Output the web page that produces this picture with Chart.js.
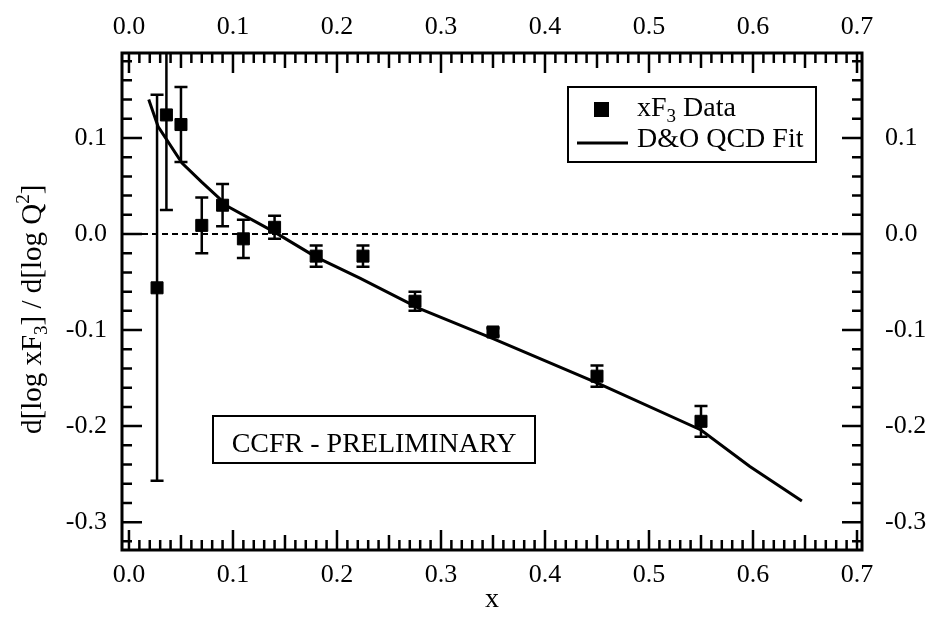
<!DOCTYPE html>
<html>
<head>
<meta charset="utf-8">
<script src="https://cdn.jsdelivr.net/npm/chart.js@4.4.1/dist/chart.umd.min.js"></script>
<style>
  body { margin: 0; background: #fff; }
  canvas { display: block; }
</style>
</head>
<body>
<canvas id="chart" width="926" height="625"></canvas>
<script>
// data
var dataX = [0.027, 0.036, 0.05, 0.07, 0.09, 0.11, 0.14, 0.18, 0.225, 0.275, 0.35, 0.45, 0.55];
var dataY = [-0.056, 0.124, 0.114, 0.009, 0.030, -0.005, 0.007, -0.023, -0.023, -0.070, -0.102, -0.148, -0.195];
var dataErr = [0.201, 0.099, 0.039, 0.029, 0.022, 0.020, 0.012, 0.011, 0.011, 0.010, 0.004, 0.011, 0.016];

var fitX = [0.019, 0.028, 0.051, 0.07, 0.096, 0.14, 0.18, 0.222, 0.28, 0.35, 0.45, 0.55, 0.597, 0.647];
var fitY = [0.140, 0.112, 0.074, 0.054, 0.028, 0.002, -0.024, -0.046, -0.078, -0.109, -0.155, -0.204, -0.242, -0.278];

var xTicks = [0.0, 0.1, 0.2, 0.3, 0.4, 0.5, 0.6, 0.7];
var yTicks = [-0.3, -0.2, -0.1, 0.0, 0.1];

var X_MIN = -0.0067, X_MAX = 0.7048;
var Y_MIN = -0.329, Y_MAX = 0.1885;

var SERIF = "'Liberation Serif', 'Times New Roman', serif";

function fmt(v) {
    if (Math.abs(v) < 1e-9) v = 0;
    return v.toFixed(1);
}

// text with a sub/superscript piece: parts = [[text, size, shift], ...]
function drawParts(ctx, parts, x, y) {
    parts.forEach(function (p) {
        ctx.font = p[1] + "px " + SERIF;
        ctx.fillText(p[0], x, y + p[2]);
        x += ctx.measureText(p[0]).width;
    });
    return x;
}

var decorations = {
    id: 'decorations',
    beforeDatasetsDraw: function (chart) {
        var ctx = chart.ctx, a = chart.chartArea;
        var xs = chart.scales.x, ys = chart.scales.y;
        ctx.save();
        ctx.beginPath();
        ctx.rect(a.left, a.top, a.right - a.left, a.bottom - a.top);
        ctx.clip();

        // dashed zero line
        var y0 = ys.getPixelForValue(0);
        ctx.strokeStyle = '#000';
        ctx.lineWidth = 2;
        ctx.setLineDash([6, 4]);
        ctx.beginPath();
        ctx.moveTo(a.left, y0);
        ctx.lineTo(a.right, y0);
        ctx.stroke();
        ctx.setLineDash([]);

        // error bars
        ctx.lineWidth = 2.5;
        for (var i = 0; i < dataX.length; i++) {
            var px = xs.getPixelForValue(dataX[i]);
            var pTop = ys.getPixelForValue(dataY[i] + dataErr[i]);
            var pBot = ys.getPixelForValue(dataY[i] - dataErr[i]);
            ctx.beginPath();
            ctx.moveTo(px, pTop); ctx.lineTo(px, pBot);
            ctx.moveTo(px - 6.5, pTop); ctx.lineTo(px + 6.5, pTop);
            ctx.moveTo(px - 6.5, pBot); ctx.lineTo(px + 6.5, pBot);
            ctx.stroke();
        }
        ctx.restore();
    },
    afterDraw: function (chart) {
        var ctx = chart.ctx, a = chart.chartArea;
        var xs = chart.scales.x, ys = chart.scales.y;
        ctx.save();
        ctx.strokeStyle = '#000';
        ctx.fillStyle = '#000';

        // frame
        ctx.lineWidth = 3;
        ctx.strokeRect(a.left, a.top, a.right - a.left, a.bottom - a.top);

        // inward tick marks
        ctx.lineWidth = 2.5;
        ctx.beginPath();
        for (var i = Math.ceil(X_MIN / 0.01); i <= Math.floor(X_MAX / 0.01); i++) {
            var len = i % 10 === 0 ? 20 : (i % 5 === 0 ? 15 : 10);
            var px = xs.getPixelForValue(i * 0.01);
            ctx.moveTo(px, a.bottom); ctx.lineTo(px, a.bottom - len);
            ctx.moveTo(px, a.top); ctx.lineTo(px, a.top + len);
        }
        for (var j = Math.ceil(Y_MIN / 0.02); j <= Math.floor(Y_MAX / 0.02); j++) {
            var l2 = j % 5 === 0 ? 20 : 10;
            var py = ys.getPixelForValue(j * 0.02);
            ctx.moveTo(a.left, py); ctx.lineTo(a.left + l2, py);
            ctx.moveTo(a.right, py); ctx.lineTo(a.right - l2, py);
        }
        ctx.stroke();

        // x title
        ctx.textAlign = 'center';
        ctx.textBaseline = 'alphabetic';
        ctx.font = "28px " + SERIF;
        ctx.fillText('x', (a.left + a.right) / 2, 607);

        // y title, rotated
        ctx.save();
        ctx.translate(41, 434);
        ctx.rotate(-Math.PI / 2);
        ctx.textAlign = 'left';
        drawParts(ctx, [
            ['d[log xF', 29, 0], ['3', 19, 6], ['] / d[log Q', 29, 0], ['2', 19, -12], [']', 29, 0]
        ], 0, 0);
        ctx.restore();

        // legend box
        ctx.lineWidth = 2;
        ctx.strokeRect(568, 87, 248, 75);
        ctx.fillRect(594, 102, 15, 15);
        ctx.lineWidth = 3;
        ctx.beginPath();
        ctx.moveTo(577, 143); ctx.lineTo(628, 143);
        ctx.stroke();
        ctx.textAlign = 'left';
        drawParts(ctx, [['xF', 28, 0], ['3', 19, 6], [' Data', 28, 0]], 637, 116);
        drawParts(ctx, [['D&O QCD Fit', 28, 0]], 637, 147);

        // preliminary label
        ctx.lineWidth = 2;
        ctx.strokeRect(213, 416, 322, 47);
        ctx.font = "28px " + SERIF;
        ctx.textAlign = 'center';
        ctx.fillText('CCFR - PRELIMINARY', 374, 452);

        ctx.restore();
    }
};

function axis(pos, min, max, size, pad) {
    var horiz = pos === 'top' || pos === 'bottom';
    return {
        type: 'linear',
        position: pos,
        min: min,
        max: max,
        grid: { display: false, drawTicks: false },
        border: { display: false },
        ticks: {
            stepSize: 0.1,
            includeBounds: false,
            padding: pad,
            color: '#000',
            maxRotation: 0,
            autoSkip: false,
            font: { family: SERIF, size: 26 },
            callback: function (v) { return fmt(v); }
        },
        afterFit: function (s) {
            if (horiz) s.height = size; else s.width = size;
        }
    };
}

var points = dataX.map(function (x, i) { return { x: x, y: dataY[i] }; });
var fitPoints = fitX.map(function (x, i) { return { x: x, y: fitY[i] }; });

var ctx = document.getElementById('chart').getContext('2d');
var chart = new Chart(ctx, {
    type: 'scatter',
    data: {
        datasets: [{
            label: 'xF3 Data',
            data: points,
            pointStyle: 'rect',
            pointRadius: 8.5,
            backgroundColor: '#000',
            borderColor: '#000',
            borderWidth: 1,
            order: 0
        }, {
            label: 'D&O QCD Fit',
            data: fitPoints,
            showLine: true,
            pointRadius: 0,
            borderColor: '#000',
            borderWidth: 3,
            tension: 0,
            order: 1
        }]
    },
    options: {
        responsive: false,
        animation: false,
        layout: { padding: 0 },
        plugins: {
            legend: { display: false },
            tooltip: { enabled: false }
        },
        scales: {
            x: axis('bottom', X_MIN, X_MAX, 75, 10),
            x2: axis('top', X_MIN, X_MAX, 53, 10),
            y: axis('left', Y_MIN, Y_MAX, 122, 15),
            y2: axis('right', Y_MIN, Y_MAX, 64, 23)
        }
    },
    plugins: [decorations]
});
</script>
</body>
</html>
